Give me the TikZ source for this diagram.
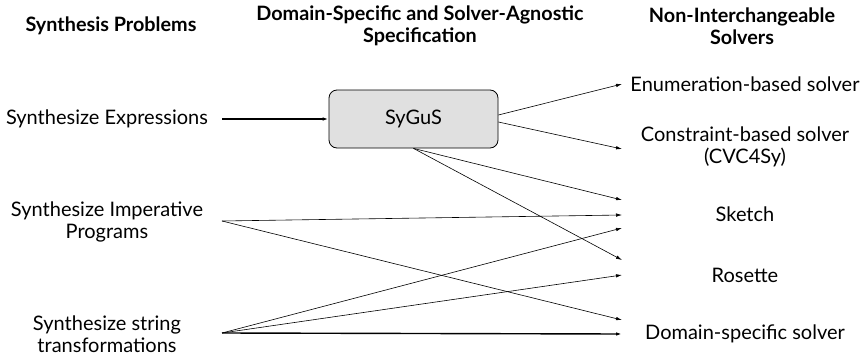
\documentclass[tikz,border=0pt]{standalone}
\usepackage{fontspec}
\setmainfont{Lato}
\usetikzlibrary{arrows.meta,positioning}

\begin{document}
\begin{tikzpicture}[x=1pt,y=-1pt]
        \tikzset{Head/.style={%
                    font=\fontsize{19.8}{22}\selectfont\bfseries,%
                    align=center,%
                    inner sep=0pt,%
                },
                Item/.style={%
                    font=\fontsize{20}{22.5}\selectfont,%
                    align=center,%
                    inner sep=0pt,%
                },
                Spec/.style={%
                    draw=black,%
                    fill=black!12,%
                    rounded corners=8pt,%
                    minimum width=169pt,%
                    minimum height=58pt,%
                    line width=0.8pt,%
                    font=\fontsize{20}{22}\selectfont,%
                },
                Link/.style={-{Latex[length=6pt,width=3.5pt]}, line width=0.6pt},
                Bold/.style={Link, line width=1.4pt}}

        \useasboundingbox (0,0) rectangle (863,359);

        % column headers
        \node[Head] (hprob) at (111,26) {Synthesis Problems};
        \node[Head] (hspec) at (420,26) {Domain-Specific and Solver-Agnostic\\Specification};
        \node[Head] (hsolv) at (742,26) {Non-Interchangeable\\Solvers};

        % problems
        \node[Item] (pexpr) at (107,119) {Synthesize Expressions};
        \node[Item] (pimp) at (107,222) {Synthesize Imperative\\Programs};
        \node[Item] (pstr) at (107,334) {Synthesize string\\transformations};

        % specification
        \node[Spec] (sygus) at (413.5,119) {SyGuS};

        % solvers
        \node[Item] (senum) at (745,84) {Enumeration-based solver};
        \node[Item] (scons) at (745,147) {Constraint-based solver\\(CVC4Sy)};
        \node[Item] (ssketch) at (745,214) {Sketch};
        \node[Item] (srose) at (745,275) {Rosette};
        \node[Item] (sdom) at (745,334) {Domain-specific solver};

        % ports
        \coordinate (cexpr) at (222,119);
        \coordinate (cimp) at (222,221);
        \coordinate (cstr) at (222,333);
        \coordinate (tenum) at (622,84);
        \coordinate (tcons) at (622,149);
        \coordinate (tsk1) at (622,200);
        \coordinate (tsk2) at (622,215);
        \coordinate (tsk3) at (622,228);
        \coordinate (tro1) at (622,260);
        \coordinate (tro2) at (622,275);
        \coordinate (tdo1) at (622,320);
        \coordinate (tdo2) at (622,334);

        \path (cexpr) edge[Bold] (sygus.west);
        \path ([yshift=4pt]sygus.east) edge[Link] (tenum);
        \path ([yshift=-3pt]sygus.east) edge[Link] (tcons);
        \path (sygus.south) edge[Link] (tsk1);
        \path (sygus.south) edge[Link] (tro1);
        \path (cimp) edge[Link] (tsk2);
        \path (cimp) edge[Link] (tdo1);
        \path (cstr) edge[Link] (tsk3);
        \path (cstr) edge[Link] (tro2);
        \path (cstr) edge[Bold] (tdo2);
\end{tikzpicture}
\end{document}
